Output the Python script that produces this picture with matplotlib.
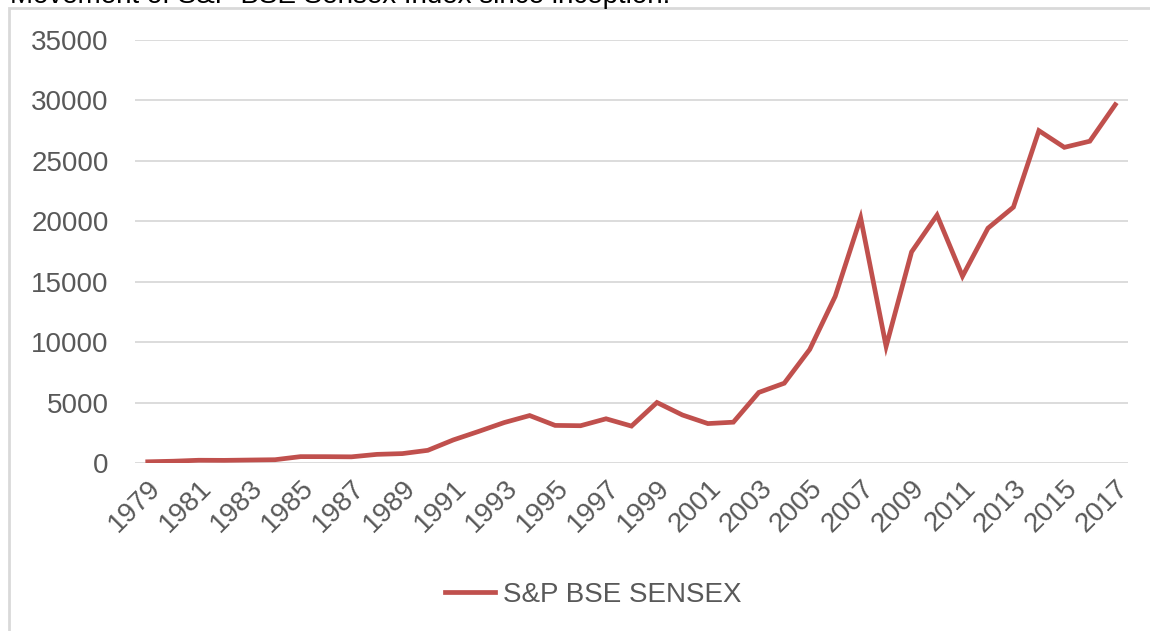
import matplotlib
matplotlib.use("Agg")
import matplotlib.pyplot as plt
from matplotlib.patches import Rectangle

# =============================================================================
# Data
# =============================================================================

years = list(range(1979, 2018))

sensex = [
    100, 148, 227, 218, 246, 272, 527, 524, 510, 714,
    778, 1049, 1908, 2615, 3346, 3927, 3110, 3085, 3659, 3055,
    5006, 3972, 3262, 3377, 5839, 6603, 9398, 13787, 20287, 9647,
    17465, 20509, 15455, 19427, 21171, 27499, 26118, 26626, 29650,
]

y_ticks = [0, 5000, 10000, 15000, 20000, 25000, 30000, 35000]

series_name = "S&P BSE SENSEX"
title_text = "Movement of S&P BSE Sensex Index since inception:"

# =============================================================================
# Figure
# =============================================================================

W, H = 1150, 631
plt.rcParams["font.family"] = ["Liberation Sans", "DejaVu Sans"]

fig = plt.figure(figsize=(W / 100, H / 100), dpi=100)

# chart area border (only top and left visible)
fig.add_artist(Rectangle((9 / W, -0.1), 1.2, 1 - 8 / H + 0.1,
                         transform=fig.transFigure, fill=False,
                         edgecolor="#D9D9D9", linewidth=2))

# heading above the chart, cut off by the top edge as in the source
fig.text(10 / W, 1 - 3 / H, title_text, fontsize=20, color="black",
         ha="left", va="baseline")

ax = fig.add_axes([135 / W, 1 - 463 / H, (1128 - 135) / W, (463 - 40) / H])

x = list(range(len(years)))
ax.plot(x, sensex, color="#C0504D", linewidth=3.4,
        solid_joinstyle="miter", label=series_name)

ax.set_xlim(-0.5, len(years) - 0.5)
ax.set_ylim(0, 35000)
ax.set_yticks(y_ticks)
ax.set_yticklabels([str(v) for v in y_ticks])

ax.set_xticks(x[::2])
ax.set_xticklabels([str(y) for y in years[::2]], rotation=45,
                   ha="right", va="top", rotation_mode="anchor")

ax.grid(axis="y", color="#D9D9D9", linewidth=1.3)
ax.set_axisbelow(True)

for s in ax.spines.values():
    s.set_visible(False)

ax.tick_params(axis="y", length=0, pad=19, labelsize=20, labelcolor="#595959")
ax.tick_params(axis="x", length=0, pad=9, labelsize=20, labelcolor="#595959")

fig.legend(loc="center", bbox_to_anchor=(593 / W, 1 - 595 / H),
           frameon=False, fontsize=20, labelcolor="#595959",
           handlelength=1.8, handletextpad=0.3)

fig.savefig("out.png", dpi=100)
